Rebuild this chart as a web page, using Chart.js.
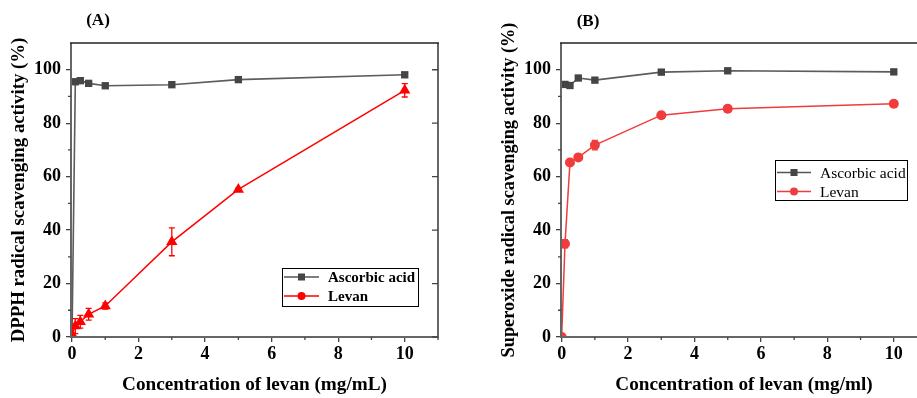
<!DOCTYPE html>
<html><head><meta charset="utf-8">
<script src="https://cdn.jsdelivr.net/npm/chart.js@4"></script>
<style>
html,body{margin:0;padding:0;background:#fff;}
#wrap{position:relative;width:917px;height:398px;overflow:hidden;background:#fff;}
.pane{position:absolute;top:0;height:398px;}
</style></head><body>
<div id="wrap">
<div class="pane" style="left:0;width:460px"><canvas id="ca"></canvas></div>
<div class="pane" style="left:490px;width:445px"><canvas id="cb"></canvas></div>
</div>
<script>
// ---- data ----
const concA = [0, 0.1, 0.25, 0.5, 1, 3, 5, 10];
const ascorbicA = [0, 95.5, 95.9, 94.9, 94.0, 94.4, 96.3, 98.1];
const levanA = [1, 4.1, 5.7, 8.5, 11.6, 35.6, 55.2, 92.3];
const levanAErr = [0.5, 2.8, 2.4, 2.2, 1.2, 5.2, 0.6, 2.5];
const concB = [0, 0.1, 0.25, 0.5, 1, 3, 5, 10];
const ascorbicB = [null, 94.5, 94.1, 96.9, 96.1, 99.1, 99.6, 99.2];
const levanB = [0, 34.9, 65.3, 67.2, 71.8, 83.0, 85.4, 87.3];
const levanBErr = [0.3, 1.5, 1.2, 0.8, 1.8, 1.2, 0.8, 1.0];
const xTicks = [0, 2, 4, 6, 8, 10];
const yTicks = [0, 20, 40, 60, 80, 100];
const xMinor = [1, 3, 5, 7, 9, 11];
const yMinor = [10, 30, 50, 70, 90];
const seriesNames = ['Ascorbic acid', 'Levan'];
const panelLabels = ['(A)', '(B)'];
const xTitles = ['Concentration of levan (mg/mL)', 'Concentration of levan (mg/ml)'];
const yTitles = ['DPPH radical scavenging activity (%)', 'Superoxide radical scavenging activity (%)'];

const SERIF = '"Liberation Serif", "Times New Roman", serif';
const GRAYM = '#454545';

function pts(xs, ys) {
  const out = [];
  xs.forEach((x, i) => { if (ys[i] != null) out.push({x: x, y: ys[i]}); });
  return out;
}

const decor = {
  id: 'decor',
  afterDatasetsDraw(chart, args, o) {
    const {ctx, scales: {x, y}} = chart;
    ctx.save();
    o.err.forEach(e => {
      ctx.strokeStyle = e.color; ctx.lineWidth = 1.3;
      e.xs.forEach((xv, i) => {
        const v = e.ys[i], d = e.es[i];
        if (v == null || !d) return;
        const px = x.getPixelForValue(xv);
        const p1 = y.getPixelForValue(v - d), p2 = y.getPixelForValue(v + d);
        if (Math.abs(p1 - p2) < 3) return;
        ctx.beginPath();
        ctx.moveTo(px, p1); ctx.lineTo(px, p2);
        ctx.moveTo(px - 3, p1); ctx.lineTo(px + 3, p1);
        ctx.moveTo(px - 3, p2); ctx.lineTo(px + 3, p2);
        ctx.stroke();
      });
    });
    ctx.restore();
  },
  afterDraw(chart, args, o) {
    const {ctx, chartArea: a, scales: {x, y}} = chart;
    ctx.save();
    ctx.strokeStyle = '#666'; ctx.lineWidth = 2;
    ctx.beginPath();
    ctx.moveTo(a.left, a.top); ctx.lineTo(a.left, a.bottom); ctx.lineTo(a.right, a.bottom); ctx.lineTo(a.right, a.top);
    ctx.stroke();
    ctx.strokeStyle = '#222'; ctx.lineWidth = 1.4;
    ctx.beginPath(); ctx.moveTo(a.left - 1, a.top); ctx.lineTo(a.right + 1, a.top); ctx.stroke();
    ctx.strokeStyle = '#444'; ctx.lineWidth = 1.3;
    ctx.beginPath();
    yMinor.forEach(v => { const p = y.getPixelForValue(v); ctx.moveTo(a.left - 3, p); ctx.lineTo(a.left, p); });
    xMinor.forEach(v => { const p = x.getPixelForValue(v); if (p <= a.right) { ctx.moveTo(p, a.bottom); ctx.lineTo(p, a.bottom + 3); } });
    yTicks.forEach(v => { const p = y.getPixelForValue(v); ctx.moveTo(a.right - 6, p); ctx.lineTo(a.right, p); });
    ctx.stroke();
    ctx.fillStyle = '#000';
    ctx.font = 'bold 17px ' + SERIF;
    ctx.textAlign = 'center'; ctx.textBaseline = 'middle';
    ctx.fillText(o.label, o.labelX, o.labelY);
    const L = o.legend;
    ctx.strokeStyle = '#000'; ctx.lineWidth = 1;
    ctx.strokeRect(L.x + 0.5, L.y + 0.5, L.w, L.h);
    ctx.font = L.font;
    ctx.textAlign = 'left';
    L.rows.forEach((r, i) => {
      const cy = L.y + L.r0 + i * L.dy;
      ctx.strokeStyle = r.line; ctx.lineWidth = 1.5;
      ctx.beginPath(); ctx.moveTo(L.x + 2, cy); ctx.lineTo(L.x + 2 + L.len, cy); ctx.stroke();
      ctx.fillStyle = r.fill;
      const mx = L.x + 2 + L.len / 2;
      if (r.shape === 'rect') ctx.fillRect(mx - 3.5, cy - 3.5, 7, 7);
      else { ctx.beginPath(); ctx.arc(mx, cy, 4, 0, Math.PI * 2); ctx.fill(); }
      ctx.fillStyle = '#000';
      ctx.fillText(seriesNames[i], L.tx, cy + 1);
    });
    ctx.restore();
  }
};

function makeChart(id, p) {
  return new Chart(document.getElementById(id), {
    type: 'line',
    data: {
      datasets: [
        {
          label: seriesNames[0], data: pts(p.conc, p.asc),
          borderColor: '#5c5c5c', borderWidth: 1.6, backgroundColor: GRAYM,
          pointBackgroundColor: GRAYM, pointBorderColor: GRAYM, pointBorderWidth: 0,
          pointStyle: 'rect', pointRadius: p.ascR, tension: 0, order: 2
        },
        {
          label: seriesNames[1], data: pts(p.conc, p.lev),
          borderColor: p.red, borderWidth: 1.5, backgroundColor: p.red,
          pointBackgroundColor: p.red, pointBorderColor: p.red, pointBorderWidth: 0,
          pointStyle: p.levShape, pointRadius: p.levR, tension: 0, order: 1
        }
      ]
    },
    options: {
      responsive: true, maintainAspectRatio: false, animation: false,
      layout: {padding: {top: 43, right: p.padRight, left: 0, bottom: 0}},
      events: [],
      plugins: {
        legend: {display: false}, tooltip: {enabled: false}, title: {display: false},
        decor: {
          err: [{xs: p.conc, ys: p.lev, es: p.levErr, color: p.red}],
          label: p.label, labelX: p.labelX, labelY: p.labelY, legend: p.legend
        }
      },
      scales: {
        x: {
          type: 'linear', min: p.xmin, max: 11,
          afterFit: s => { s.height = 61; },
          afterBuildTicks: s => { s.ticks = xTicks.map(v => ({value: v})); },
          ticks: {font: {family: SERIF, weight: 'bold', size: 18}, color: '#000', padding: 2, maxRotation: 0, autoSkip: false},
          grid: {drawOnChartArea: false, drawTicks: true, tickLength: 5, color: '#444', lineWidth: 1.3},
          border: {display: false},
          title: {display: true, text: p.xTitle, font: {family: SERIF, weight: 'bold', size: 19.2}, color: '#000', padding: {top: 0, bottom: 1}}
        },
        y: {
          type: 'linear', min: 0, max: 110,
          afterFit: s => { s.width = 71; },
          afterBuildTicks: s => { s.ticks = yTicks.map(v => ({value: v})); },
          ticks: {font: {family: SERIF, weight: 'bold', size: 18}, color: '#000', padding: 5, autoSkip: false},
          grid: {drawOnChartArea: false, drawTicks: true, tickLength: 5, color: '#444', lineWidth: 1.3},
          border: {display: false},
          title: {display: true, text: p.yTitle, font: {family: SERIF, weight: 'bold', size: p.ySize}, color: '#000', padding: {top: 8, bottom: 0}}
        }
      }
    },
    plugins: [decor]
  });
}

makeChart('ca', {
  conc: concA, asc: ascorbicA, lev: levanA, levErr: levanAErr,
  ascR: [0, 5.2, 5.2, 5.2, 5.2, 5.2, 5.2, 5.2], levShape: 'triangle', levR: 6.5,
  red: '#ff0000', xmin: -0.03, padRight: 22,
  label: panelLabels[0], labelX: 98, labelY: 21,
  xTitle: xTitles[0], yTitle: yTitles[0], ySize: 18.8,
  legend: {x: 282, y: 268, w: 136, h: 38, r0: 9, dy: 19, len: 35, tx: 328,
    font: 'bold 15px ' + SERIF,
    rows: [{line: '#555', fill: GRAYM, shape: 'rect'}, {line: '#ff0000', fill: '#ff0000', shape: 'circle'}]}
});

makeChart('cb', {
  conc: concB, asc: ascorbicB, lev: levanB, levErr: levanBErr,
  ascR: 5.2, levShape: 'circle', levR: 5,
  red: '#f03c3c', xmin: -0.02, padRight: 8,
  label: panelLabels[1], labelX: 98, labelY: 22,
  xTitle: xTitles[1], yTitle: yTitles[1], ySize: 18.3,
  legend: {x: 285, y: 160, w: 132, h: 40, r0: 12.5, dy: 19, len: 34, tx: 330,
    font: '15.5px ' + SERIF,
    rows: [{line: '#555', fill: GRAYM, shape: 'rect'}, {line: '#f03c3c', fill: '#f03c3c', shape: 'circle'}]}
});
</script>
</body></html>
